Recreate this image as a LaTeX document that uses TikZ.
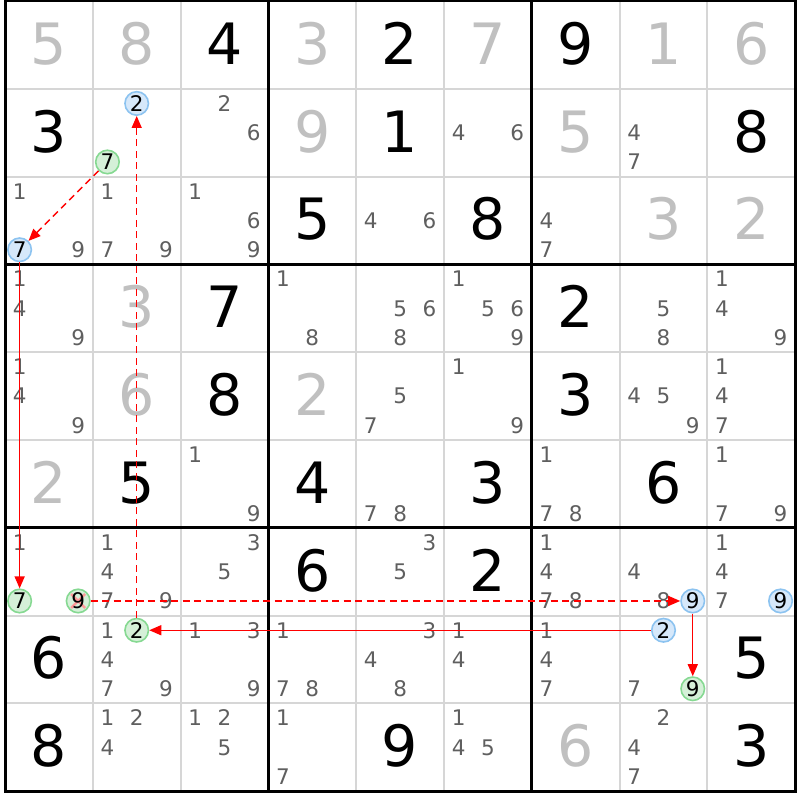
\documentclass[tikz,border=0pt]{standalone}
\usepackage{fontspec}
\setmainfont{DejaVu Sans}
\usetikzlibrary{arrows.meta}
\definecolor{candgray}{HTML}{5F5F5F}
\definecolor{solvedgray}{HTML}{C0C0C0}
\definecolor{gridgray}{HTML}{D6D6D6}
\definecolor{gfill}{HTML}{D5F0D8}
\definecolor{gline}{HTML}{86D992}
\definecolor{bfill}{HTML}{D6E8FA}
\definecolor{bline}{HTML}{8CC3F0}
\tikzset{
  cand/.style={inner sep=0pt, text height=15.7pt, text depth=0pt,
    font=\fontsize{21.5}{21.5}\selectfont, text=candgray},
  given/.style={inner sep=0pt, text height=41.6pt, text depth=0pt,
    font=\fontsize{57}{57}\selectfont, text=black},
  solved/.style={given, text=solvedgray},
  gcirc/.style={cand, circle, minimum size=23.5pt, fill=gfill, draw=gline,
    line width=1.6pt, text=black},
  bcirc/.style={cand, circle, minimum size=23.5pt, fill=bfill, draw=bline,
    line width=1.6pt, text=black},
  crossed/.style={path picture={
    \draw[red!40, line width=2.5pt]
      ([shift={(-7,-7)}]path picture bounding box.center) --
      ([shift={(7,7)}]path picture bounding box.center)
      ([shift={(-7,7)}]path picture bounding box.center) --
      ([shift={(7,-7)}]path picture bounding box.center);}},
  thingrid/.style={draw=gridgray, line width=2pt},
  thickgrid/.style={draw=black, line width=3pt},
  link/.style={draw=red, line width=1.4pt, -{Triangle[length=12pt,width=10pt]}},
  weak/.style={link, dash pattern=on 7pt off 4.5pt},
}
\newcommand\cands[3]{%
  \foreach \k in {#3}{%
    \node[cand] (c#1#2\k) at
      ({5+(#2-1)*87.8+14.633+mod(\k-1,3)*29.267},
       {1+(#1-1)*87.8+14.633+int((\k-1)/3)*29.267}) {\k};}}
\newcommand\ccand[4]{%
  \node[#4] (c#1#2#3) at
    ({5+(#2-1)*87.8+14.633+mod(#3-1,3)*29.267},
     {1+(#1-1)*87.8+14.633+int((#3-1)/3)*29.267}) {#3};}
\newcommand\gv[3]{%
  \node[given] (g#1#2) at ({5+(#2-1)*87.8+43.9},{1+(#1-1)*87.8+42.5}) {#3};}
\newcommand\sv[3]{%
  \node[solved] (g#1#2) at ({5+(#2-1)*87.8+43.9},{1+(#1-1)*87.8+42.5}) {#3};}
\begin{document}
\begin{tikzpicture}[x=1pt,y=-1pt]
\useasboundingbox[fill=white] (0,0) rectangle (800,800);
% grid
\foreach \i in {1,2,4,5,7,8}{
  \draw[thingrid] ({5+\i*87.8},1) -- ({5+\i*87.8},791.2);
  \draw[thingrid] (5,{1+\i*87.8}) -- (795.2,{1+\i*87.8});
}
\foreach \i in {3,6}{
  \draw[thickgrid] ({5+\i*87.8},1) -- ({5+\i*87.8},791.2);
  \draw[thickgrid] (5,{1+\i*87.8}) -- (795.2,{1+\i*87.8});
}
\draw[thickgrid] (5,1) rectangle (795.2,791.2);
% row 1
\sv11{5}\sv12{8}\gv13{4}\sv14{3}\gv15{2}\sv16{7}\gv17{9}\sv18{1}\sv19{6}
% row 2
\gv21{3}\ccand222{bcirc}\ccand227{gcirc}\cands23{2,6}\sv24{9}\gv25{1}
\cands26{4,6}\sv27{5}\cands28{4,7}\gv29{8}
% row 3
\cands31{1,9}\ccand317{bcirc}\cands32{1,7,9}\cands33{1,6,9}\gv34{5}
\cands35{4,6}\gv36{8}\cands37{4,7}\sv38{3}\sv39{2}
% row 4
\cands41{1,4,9}\sv42{3}\gv43{7}\cands44{1,8}\cands45{5,6,8}\cands46{1,5,6,9}
\gv47{2}\cands48{5,8}\cands49{1,4,9}
% row 5
\cands51{1,4,9}\sv52{6}\gv53{8}\sv54{2}\cands55{5,7}\cands56{1,9}
\gv57{3}\cands58{4,5,9}\cands59{1,4,7}
% row 6
\sv61{2}\gv62{5}\cands63{1,9}\gv64{4}\cands65{7,8}\gv66{3}
\cands67{1,7,8}\gv68{6}\cands69{1,7,9}
% row 7
\cands71{1}\ccand717{gcirc}\ccand719{gcirc,crossed}\cands72{1,4,7,9}
\cands73{3,5}\gv74{6}\cands75{3,5}\gv76{2}\cands77{1,4,7,8}
\cands78{4,8}\ccand789{bcirc}\cands79{1,4,7}\ccand799{bcirc}
% row 8
\gv81{6}\cands82{1,4,7,9}\ccand822{gcirc}\cands83{1,3,9}\cands84{1,7,8}
\cands85{3,4,8}\cands86{1,4}\cands87{1,4,7}\cands88{7}\ccand882{bcirc}
\ccand889{gcirc}\gv89{5}
% row 9
\gv91{8}\cands92{1,2,4}\cands93{1,2,5}\cands94{1,7}\gv95{9}\cands96{1,4,5}
\sv97{6}\cands98{2,4,7}\gv99{3}
% chain
\draw[weak] (c227) -- (c317);
\draw[link] (c317) -- (c717);
\draw[weak] (c719) -- (c789);
\draw[link] (c789) -- (c889);
\draw[link] (c882) -- (c822);
\draw[weak] (c822) -- (c222);
\end{tikzpicture}
\end{document}
